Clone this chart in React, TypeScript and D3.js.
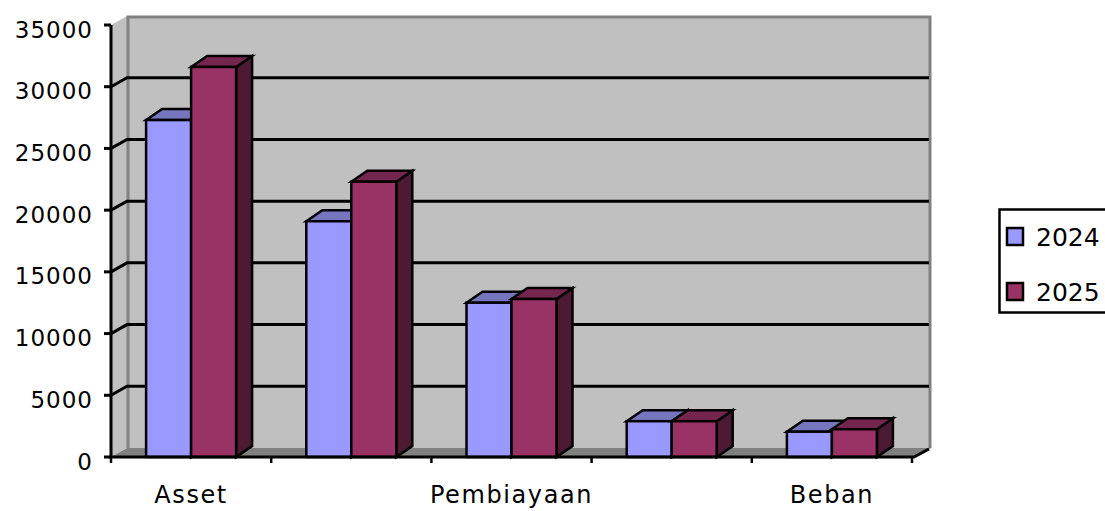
import React, { useEffect, useRef } from 'react';
import * as d3 from 'd3';

const categories = ['Asset', 'DPK', 'Pembiayaan', 'Pendapatan', 'Beban'];
const seriesNames = ['2024', '2025'];
const values2024 = [27300, 19100, 12500, 2900, 2050];
const values2025 = [31600, 22300, 12800, 2900, 2250];
const yTicks = [0, 5000, 10000, 15000, 20000, 25000, 30000, 35000];

const W = 1105;
const H = 511;

const App = () => {
  const ref = useRef<SVGSVGElement>(null);

  useEffect(() => {
    const svg = d3.select(ref.current);
    svg.selectAll('*').remove();

    const x0 = 111, x1 = 912;
    const yBottom = 457, yTop = 25;
    const wallDx = 16, wallDy = 9;   // depth of the back wall
    const barDx = 16, barDy = 11;    // depth of bars
    const font = "'DejaVu Sans', sans-serif";

    const y = d3.scaleLinear().domain([0, 35000]).range([yBottom, yTop]);
    const x = d3.scaleBand().domain(categories).range([x0, x1]).padding(0);
    const xs = d3.scaleBand().domain(seriesNames).range([0, x.bandwidth()])
      .paddingInner(0).paddingOuter(0.78);

    const fronts = ['#9999FF', '#993366'];
    const tops = ['#7676BE', '#74264E'];
    const sides = ['#4A4A80', '#4C1A33'];

    // left side wall
    svg.append('polygon')
      .attr('points', `${x0},${yBottom} ${x0},${yTop} ${x0 + wallDx},${yTop - wallDy} ${x0 + wallDx},${yBottom - wallDy}`)
      .attr('fill', '#C0C0C0');
    // back wall
    const backRight = x1 + wallDx + 1;
    svg.append('rect')
      .attr('x', x0 + wallDx).attr('y', yTop - wallDy)
      .attr('width', backRight - x0 - wallDx).attr('height', yBottom - yTop)
      .attr('fill', '#C0C0C0');
    // wall edges
    svg.append('path')
      .attr('d', `M${x0 + wallDx + 1},${yBottom - wallDy} V${yTop - wallDy + 1} H${backRight + 1} V${yBottom - wallDy}`)
      .attr('fill', 'none').attr('stroke', '#808080').attr('stroke-width', 3);
    // floor
    svg.append('polygon')
      .attr('points', `${x0},${yBottom} ${x0 + wallDx},${yBottom - wallDy} ${backRight + 2},${yBottom - wallDy} ${x1 + 2},${yBottom}`)
      .attr('fill', '#808080');

    // gridlines
    yTicks.filter(t => t > 0 && t < 35000).forEach(t => {
      const yy = y(t);
      svg.append('path')
        .attr('d', `M${x0},${yy} L${x0 + wallDx},${yy - wallDy} H${backRight}`)
        .attr('fill', 'none').attr('stroke', '#000').attr('stroke-width', 3);
    });

    // bars
    categories.forEach((c, i) => {
      [values2024[i], values2025[i]].forEach((v, s) => {
        const bx = (x(c) as number) + (xs(seriesNames[s]) as number);
        const bw = xs.bandwidth();
        const yv = y(v);
        const g = svg.append('g')
          .attr('stroke', '#000').attr('stroke-width', 2.5).attr('stroke-linejoin', 'miter');
        g.append('polygon')
          .attr('points', `${bx + bw},${yv} ${bx + bw + barDx},${yv - barDy} ${bx + bw + barDx},${yBottom - barDy} ${bx + bw},${yBottom}`)
          .attr('fill', sides[s]);
        g.append('polygon')
          .attr('points', `${bx},${yv} ${bx + barDx},${yv - barDy} ${bx + bw + barDx},${yv - barDy} ${bx + bw},${yv}`)
          .attr('fill', tops[s]);
        g.append('rect')
          .attr('x', bx).attr('y', yv).attr('width', bw).attr('height', yBottom - yv)
          .attr('fill', fronts[s]);
      });
    });

    // floor front edge
    svg.append('path')
      .attr('d', `M${x0 - 2},${yBottom} H${x1 + 2} L${x1 + wallDx + 1},${yBottom - wallDy + 1}`)
      .attr('fill', 'none').attr('stroke', '#000').attr('stroke-width', 3);

    // y axis
    svg.append('line')
      .attr('x1', x0).attr('x2', x0).attr('y1', yTop).attr('y2', yBottom + 1)
      .attr('stroke', '#000').attr('stroke-width', 3);
    yTicks.forEach(t => {
      svg.append('line')
        .attr('x1', x0 - 7).attr('x2', x0).attr('y1', y(t)).attr('y2', y(t))
        .attr('stroke', '#000').attr('stroke-width', 3);
      svg.append('text')
        .attr('x', 93).attr('y', y(t) + 12.5)
        .attr('text-anchor', 'end')
        .attr('font-family', font).attr('font-size', 23)
        .attr('letter-spacing', 1)
        .text(String(t));
    });

    // x axis ticks and labels (every other category shown, as in the original)
    const tickXs = categories.map(c => x(c) as number).concat([x1]);
    tickXs.forEach(tx => {
      svg.append('line')
        .attr('x1', tx).attr('x2', tx).attr('y1', yBottom).attr('y2', yBottom + 6)
        .attr('stroke', '#000').attr('stroke-width', 2.5);
    });
    categories.forEach((c, i) => {
      if (i % 2 !== 0) return;
      svg.append('text')
        .attr('x', (x(c) as number) + x.bandwidth() / 2)
        .attr('y', 503)
        .attr('text-anchor', 'middle')
        .attr('font-family', font).attr('font-size', 24)
        .attr('letter-spacing', 1.6)
        .text(c);
    });

    // legend
    svg.append('rect')
      .attr('x', 999.5).attr('y', 209.5).attr('width', 120).attr('height', 103)
      .attr('fill', '#fff').attr('stroke', '#000').attr('stroke-width', 2.5);
    seriesNames.forEach((n, s) => {
      const ly = s === 0 ? 228 : 283;
      svg.append('rect')
        .attr('x', 1007).attr('y', ly).attr('width', 16).attr('height', 17)
        .attr('fill', fronts[s]).attr('stroke', '#000').attr('stroke-width', 2.5);
      svg.append('text')
        .attr('x', 1036).attr('y', ly + 18)
        .attr('font-family', font).attr('font-size', 25)
        .text(n);
    });
  }, []);

  return (
    <svg
      ref={ref}
      width={W}
      height={H}
      style={{ position: 'absolute', left: 0, top: 0, background: '#fff', display: 'block' }}
    />
  );
};

export default App;
